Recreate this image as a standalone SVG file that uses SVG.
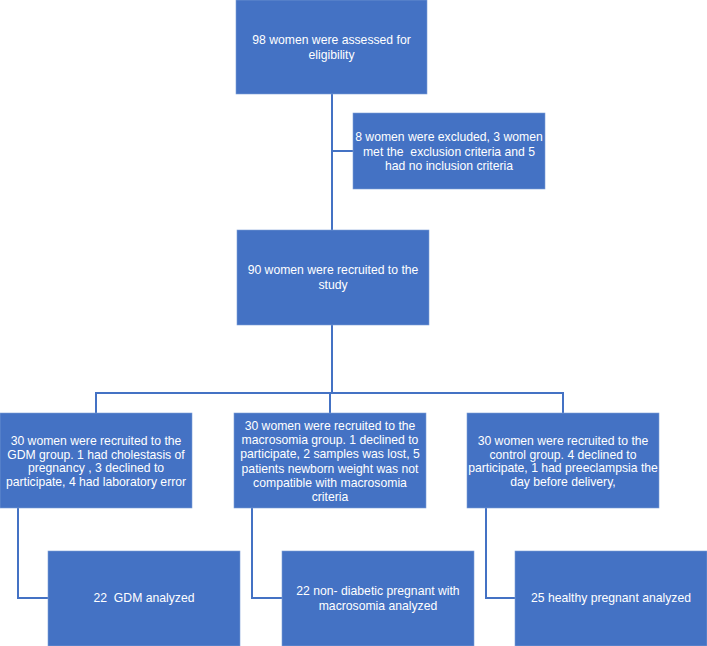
<svg xmlns="http://www.w3.org/2000/svg" width="707" height="646" viewBox="0 0 707 646">
<style>
.box{fill:#4472C4;stroke:#7e9fd8;stroke-width:0.6}
.t{font-family:"Liberation Sans",Arial,sans-serif;font-size:12.2px;fill:#ffffff;text-anchor:middle;white-space:pre}
.c{fill:none;stroke:#4472C4;stroke-width:2}
</style>
<rect width="707" height="646" fill="#ffffff"/>
<g id="connectors">
<path class="c" d="M332 94 V393"/>
<path class="c" d="M332 151 H353"/>
<path class="c" d="M96 413 V393 H563 V413"/>
<path class="c" d="M330 393 V413"/>
<path class="c" d="M18 508 V598 H48"/>
<path class="c" d="M252 508 V598 H282"/>
<path class="c" d="M486 508 V598 H516"/>
</g>
<g id="assessed">
<rect class="box" x="236" y="0" width="191" height="94"/>
<text class="t" x="331.5" y="44">98 women were assessed for</text>
<text class="t" x="331.5" y="58.5">eligibility</text>
</g>
<g id="excluded">
<rect class="box" x="353" y="113" width="192" height="76"/>
<text class="t" x="449" y="141">8 women were excluded, 3 women</text>
<text class="t" x="449" y="155.5" xml:space="preserve">met the  exclusion criteria and 5</text>
<text class="t" x="449" y="170">had no inclusion criteria</text>
</g>
<g id="recruited">
<rect class="box" x="237" y="230" width="192" height="95"/>
<text class="t" x="333" y="274">90 women were recruited to the</text>
<text class="t" x="333" y="289">study</text>
</g>
<g id="gdm">
<rect class="box" x="0" y="413" width="192" height="95"/>
<text class="t" x="96" y="445">30 women were recruited to the</text>
<text class="t" x="96" y="458.5">GDM group. 1 had cholestasis of</text>
<text class="t" x="96" y="472">pregnancy , 3 declined to</text>
<text class="t" x="96" y="486">participate, 4 had laboratory error</text>
</g>
<g id="macrosomia">
<rect class="box" x="234" y="413" width="192" height="95"/>
<text class="t" x="330" y="430">30 women were recruited to the</text>
<text class="t" x="330" y="444">macrosomia group. 1 declined to</text>
<text class="t" x="330" y="458">participate, 2 samples was lost, 5</text>
<text class="t" x="330" y="472.5">patients newborn weight was not</text>
<text class="t" x="330" y="486.5">compatible with macrosomia</text>
<text class="t" x="330" y="501">criteria</text>
</g>
<g id="control">
<rect class="box" x="467" y="413" width="192" height="95"/>
<text class="t" x="563" y="445">30 women were recruited to the</text>
<text class="t" x="563" y="458.5">control group. 4 declined to</text>
<text class="t" x="563" y="472">participate, 1 had preeclampsia the</text>
<text class="t" x="563" y="485.5">day before delivery,</text>
</g>
<g id="gdm-analyzed">
<rect class="box" x="48" y="551" width="192" height="95"/>
<text class="t" x="144" y="602" xml:space="preserve">22  GDM analyzed</text>
</g>
<g id="macro-analyzed">
<rect class="box" x="282" y="551" width="192" height="95"/>
<text class="t" x="378" y="595">22 non- diabetic pregnant with</text>
<text class="t" x="378" y="610">macrosomia analyzed</text>
</g>
<g id="control-analyzed">
<rect class="box" x="515" y="551" width="192" height="95"/>
<text class="t" x="611" y="602">25 healthy pregnant analyzed</text>
</g>
</svg>
